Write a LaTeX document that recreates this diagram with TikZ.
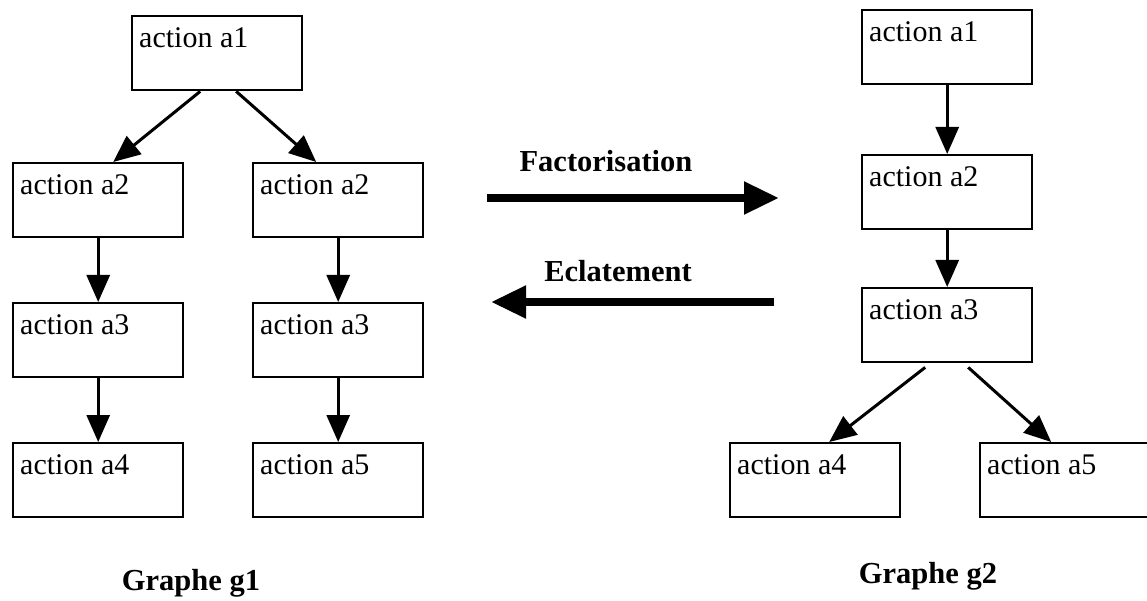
\documentclass[tikz,border=0pt]{standalone}
\usepackage{fontspec}
\setmainfont{Liberation Serif}
\usepackage{tikz}
\usetikzlibrary{arrows.meta}

\begin{document}
\begin{tikzpicture}[x=1pt,y=-1pt,
action/.style={draw, line width=2.4pt, anchor=north west, minimum width=170pt, minimum height=74pt,
  text width=156pt, align=flush left, inner xsep=7pt, inner ysep=7pt, text height=24pt, text depth=36pt,
  font=\fontsize{30}{34}\selectfont},
titre/.style={anchor=base, font=\bfseries\fontsize{30.5}{36}\selectfont},
lien/.style={line width=3pt, -{Triangle[length=27pt,width=23pt]}},
fleche/.style={line width=8pt, -{Triangle[length=35pt,width=31pt]}}]

\useasboundingbox (0,0) rectangle (1147,601);
\clip (0,0) rectangle (1147,601);

\node[action] (ga1) at (131,15) {action a1};
\node[action] (ga2) at (12,162) {action a2};
\node[action] (gb2) at (252,162) {action a2};
\node[action] (ga3) at (12,302) {action a3};
\node[action] (gb3) at (252,302) {action a3};
\node[action] (ga4) at (12,442) {action a4};
\node[action] (gb5) at (252,442) {action a5};

\node[action] (da1) at (861,9) {action a1};
\node[action] (da2) at (861,154) {action a2};
\node[action] (da3) at (861,287) {action a3};
\node[action] (da4) at (729,442) {action a4};
\node[action] (da5) at (979,442) {action a5};

\draw[lien] ([xshift=-17pt]ga1.south) -- ([xshift=15pt]ga2.north);
\draw[lien] ([xshift=19pt]ga1.south) -- ([xshift=-22pt]gb2.north);
\draw[lien] (ga2) -- (ga3);
\draw[lien] (ga3) -- (ga4);
\draw[lien] (gb2) -- (gb3);
\draw[lien] (gb3) -- (gb5);

\draw[lien] (da1) -- (da2);
\draw[lien] (da2) -- (da3);
\draw[lien] ([xshift=-22pt,yshift=-4pt]da3.south) -- ([xshift=14pt]da4.north);
\draw[lien] ([xshift=21pt,yshift=-4pt]da3.south) -- ([xshift=-14pt]da5.north);

\coordinate (fa) at (487,198);
\coordinate (fb) at (779,198);
\coordinate (ea) at (774,302);
\coordinate (eb) at (491,302);
\draw[fleche] (fa) -- (fb);
\draw[fleche] (ea) -- (eb);

\node[titre] (fact) at (606,172) {Factorisation};
\node[titre] (ecl) at (618,282) {Eclatement};
\node[titre] (g1) at (191,590) {Graphe g1};
\node[titre] (g2) at (928,583) {Graphe g2};

\end{tikzpicture}
\end{document}
